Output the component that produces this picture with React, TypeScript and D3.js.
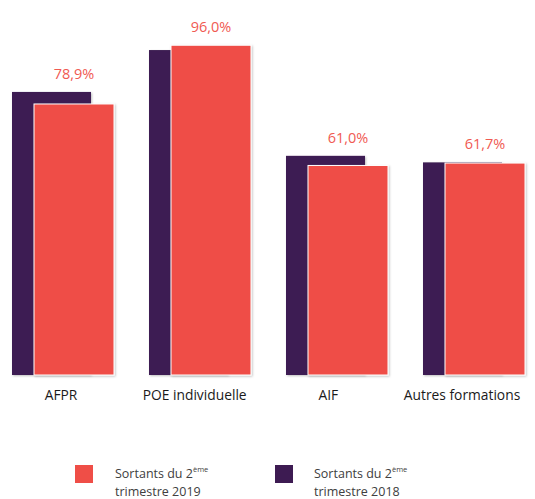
import React from "react";
import * as d3 from "d3";

// taux d'emploi des sortants de formation
const categories = ["AFPR", "POE individuelle", "AIF", "Autres formations"];
const values2019 = [78.9, 96.0, 61.0, 61.7];
const values2018 = [82.4, 94.6, 63.8, 61.9];
const valueLabels = ["78,9%", "96,0%", "61,0%", "61,7%"];

const RED = "#ef4e47";
const PURPLE = "#3d1b52";
const FONT = "'Open Sans', sans-serif";

export default function App() {
  const width = 535;
  const height = 499;

  const x = d3.scaleBand().domain(categories).range([12, 12 + 137 * 4]);
  const xLabel = d3.scalePoint().domain(categories).range([61, 462]);
  const y = d3.scaleLinear().domain([0, 100]).range([375, 31.5]);

  const barW = 79;
  const shift = 22;

  return (
    <svg
      width={width}
      height={height}
      style={{ position: "absolute", left: 0, top: 0, background: "#fff" }}
    >
      <defs>
        <filter id="shadow" x="-10%" y="-10%" width="120%" height="120%">
          <feDropShadow dx="1" dy="1" stdDeviation="1" floodColor="#000" floodOpacity="0.25" />
        </filter>
      </defs>

      {categories.map((c, i) => {
        const x0 = x(c)!;
        const ry = y(values2019[i]);
        const py = y(values2018[i]);
        return (
          <g key={c}>
            <rect
              x={x0}
              y={py}
              width={barW}
              height={y(0) - py}
              fill={PURPLE}
              filter="url(#shadow)"
            />
            <rect
              x={x0 + shift}
              y={ry}
              width={barW + 1}
              height={y(0) - ry}
              fill={RED}
              stroke="#fff"
              strokeWidth={1}
              filter="url(#shadow)"
            />
            <text
              x={x0 + shift + (barW + 1) / 2}
              y={Math.min(ry, py) - 13}
              textAnchor="middle"
              fontFamily={FONT}
              fontSize={14.5}
              fill="#f05a52"
            >
              {valueLabels[i]}
            </text>
            <text
              x={xLabel(c)}
              y={400}
              textAnchor="middle"
              fontFamily={FONT}
              fontSize={13.8}
              fill="#1a1a1a"
            >
              {c}
            </text>
          </g>
        );
      })}

      {/* légende */}
      <g fontFamily={FONT} fontSize={12.5} fill="#404040">
        <rect x={75} y={465} width={18} height={18} fill={RED} />
        <text x={115} y={477.5}>
          Sortants du 2<tspan dy={-6} fontSize={7.5}>ème</tspan>
        </text>
        <text x={115} y={495.5}>trimestre 2019</text>

        <rect x={275} y={465} width={18} height={18} fill={PURPLE} />
        <text x={314} y={478}>
          Sortants du 2<tspan dy={-6} fontSize={7.5}>ème</tspan>
        </text>
        <text x={314} y={496}>trimestre 2018</text>
      </g>
    </svg>
  );
}
